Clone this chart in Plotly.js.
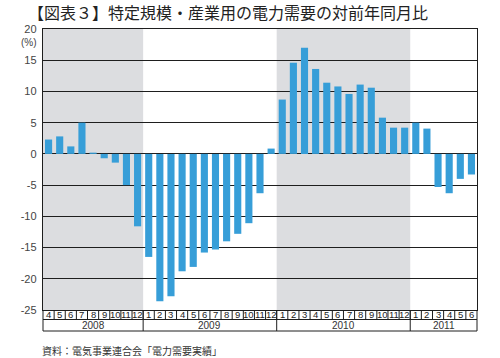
<!DOCTYPE html>
<html><head><meta charset="utf-8">
<script src="https://cdn.plot.ly/plotly-3.0.1.min.js"></script>
<style>html,body{margin:0;padding:0;background:#fff}</style>
</head><body><div id="chart" style="width:500px;height:358px"></div>
<script>
// ---- data ----
const yearNames = ['2008', '2009', '2010', '2011'];
const yearMonths = [
  [4, 5, 6, 7, 8, 9, 10, 11, 12],
  [1, 2, 3, 4, 5, 6, 7, 8, 9, 10, 11, 12],
  [1, 2, 3, 4, 5, 6, 7, 8, 9, 10, 11, 12],
  [1, 2, 3, 4, 5, 6]
];
const shadedYears = ['2008', '2010'];
const values = [
  2.3, 2.8, 1.2, 5.0, 0.2, -0.7, -1.4, -5.0, -11.6,
  -16.5, -23.6, -22.8, -18.8, -18.1, -15.8, -15.3, -14.0, -12.8, -11.1, -6.3, 0.85,
  8.7, 14.6, 17.0, 13.6, 11.4, 10.8, 9.6, 11.1, 10.6, 5.8, 4.2, 4.2,
  5.0, 4.05, -5.3, -6.3, -4.0, -3.3
];
const yTickVals = [-25, -20, -15, -10, -5, 0, 5, 10, 15, 20];
const yTickLabels = ['-25', '-20', '-15', '-10', '-5', '0', '5', '10', '15', '20'];
const titleText = '【図表３】特定規模・産業用の電力需要の対前年同月比';
const sourceText = '資料：電気事業連合会「電力需要実績」';
const unitText = '(%)';

// ---- build ----
const categories = [];
const monthLabels = [];
const yearStart = [];
yearNames.forEach((y, k) => {
  yearStart.push(categories.length);
  yearMonths[k].forEach(m => { categories.push(y + '/' + m); monthLabels.push(String(m)); });
});
const N = categories.length;

const W = 500, H = 358;
const margin = {l: 43, r: 23, t: 29, b: 48};
const ph = H - margin.t - margin.b;
const pw = W - margin.l - margin.r;
const yM = -9.5 / ph;   // bottom of month row
const yY = -21 / ph;    // bottom of year row

const lineC = '#1e1e1e';
const shapes = [];
// shaded year backgrounds
yearNames.forEach((y, k) => {
  if (shadedYears.includes(y)) {
    shapes.push({type: 'rect', layer: 'below', xref: 'x', yref: 'paper',
      x0: yearStart[k] - 0.5, x1: yearStart[k] + yearMonths[k].length - 0.5, y0: 0, y1: 1,
      fillcolor: '#dcdde0', line: {width: 0}});
  }
});
// table lines
for (let i = 1; i < N; i++) {
  shapes.push({type: 'line', xref: 'paper', yref: 'paper', x0: i / N, x1: i / N, y0: 0, y1: yM,
    line: {color: lineC, width: 1}});
}
const bounds = [0];
yearNames.forEach((y, k) => bounds.push(yearStart[k] + yearMonths[k].length));
bounds.forEach(b => {
  shapes.push({type: 'line', xref: 'paper', yref: 'paper', x0: b / N, x1: b / N, y0: 0, y1: yY,
    line: {color: lineC, width: 1}});
});
[yM, yY].forEach(yy => {
  shapes.push({type: 'line', xref: 'paper', yref: 'paper', x0: 0, x1: 1, y0: yy, y1: yy,
    line: {color: lineC, width: 1}});
});

const annotations = [];
monthLabels.forEach((m, i) => {
  annotations.push({text: m, xref: 'x', yref: 'paper', x: i, y: yM / 2, showarrow: false,
    xanchor: 'center', yanchor: 'middle',
    font: {family: 'Liberation Sans, Arial, sans-serif', size: 9.5, color: '#222'}});
});
yearNames.forEach((y, k) => {
  annotations.push({text: y, xref: 'x', yref: 'paper',
    x: yearStart[k] + yearMonths[k].length / 2 - 0.5, y: (yM + yY) / 2, showarrow: false,
    xanchor: 'center', yanchor: 'middle',
    font: {family: 'Liberation Sans, Arial, sans-serif', size: 10, color: '#333'}});
});
annotations.push({text: unitText, xref: 'paper', yref: 'paper', x: -4 / pw, y: (H - margin.b - 43) / ph,
  showarrow: false, xanchor: 'right', yanchor: 'middle',
  font: {family: 'Liberation Sans, Arial, sans-serif', size: 10, color: '#444'}});
annotations.push({text: sourceText, xref: 'paper', yref: 'paper', x: -3 / pw, y: -(350 - (H - margin.b)) / ph,
  showarrow: false, xanchor: 'left', yanchor: 'middle',
  font: {family: 'Noto Sans CJK JP, sans-serif', size: 10, color: '#333'}});

const trace = {
  type: 'bar', x: categories, y: values,
  marker: {color: '#379ed8', line: {width: 0}},
  hoverinfo: 'skip'
};

const layout = {
  width: W, height: H, margin: margin,
  paper_bgcolor: '#fff', plot_bgcolor: 'rgba(0,0,0,0)',
  showlegend: false, bargap: 0.36,
  title: {text: titleText, x: 228 / W, xanchor: 'center', y: 1 - 13 / H, yanchor: 'middle',
    font: {family: 'Noto Sans CJK JP, sans-serif', size: 16, color: '#222'}},
  xaxis: {type: 'category', range: [-0.5, N - 0.5], showticklabels: false, ticks: '',
    showgrid: false, zeroline: false, showline: true, mirror: true, linecolor: lineC, linewidth: 1, fixedrange: true},
  yaxis: {range: [-25, 20], tickvals: yTickVals, ticktext: yTickLabels, ticks: '',
    showgrid: true, gridcolor: lineC, gridwidth: 1.2, zeroline: false,
    showline: true, mirror: true, linecolor: lineC, linewidth: 1.2, ticklabelstandoff: 3,
    tickfont: {family: 'Liberation Sans, Arial, sans-serif', size: 11, color: '#444'}, fixedrange: true},
  shapes: shapes, annotations: annotations
};

Plotly.newPlot('chart', [trace], layout, {staticPlot: true, displayModeBar: false});
</script>
</body></html>
